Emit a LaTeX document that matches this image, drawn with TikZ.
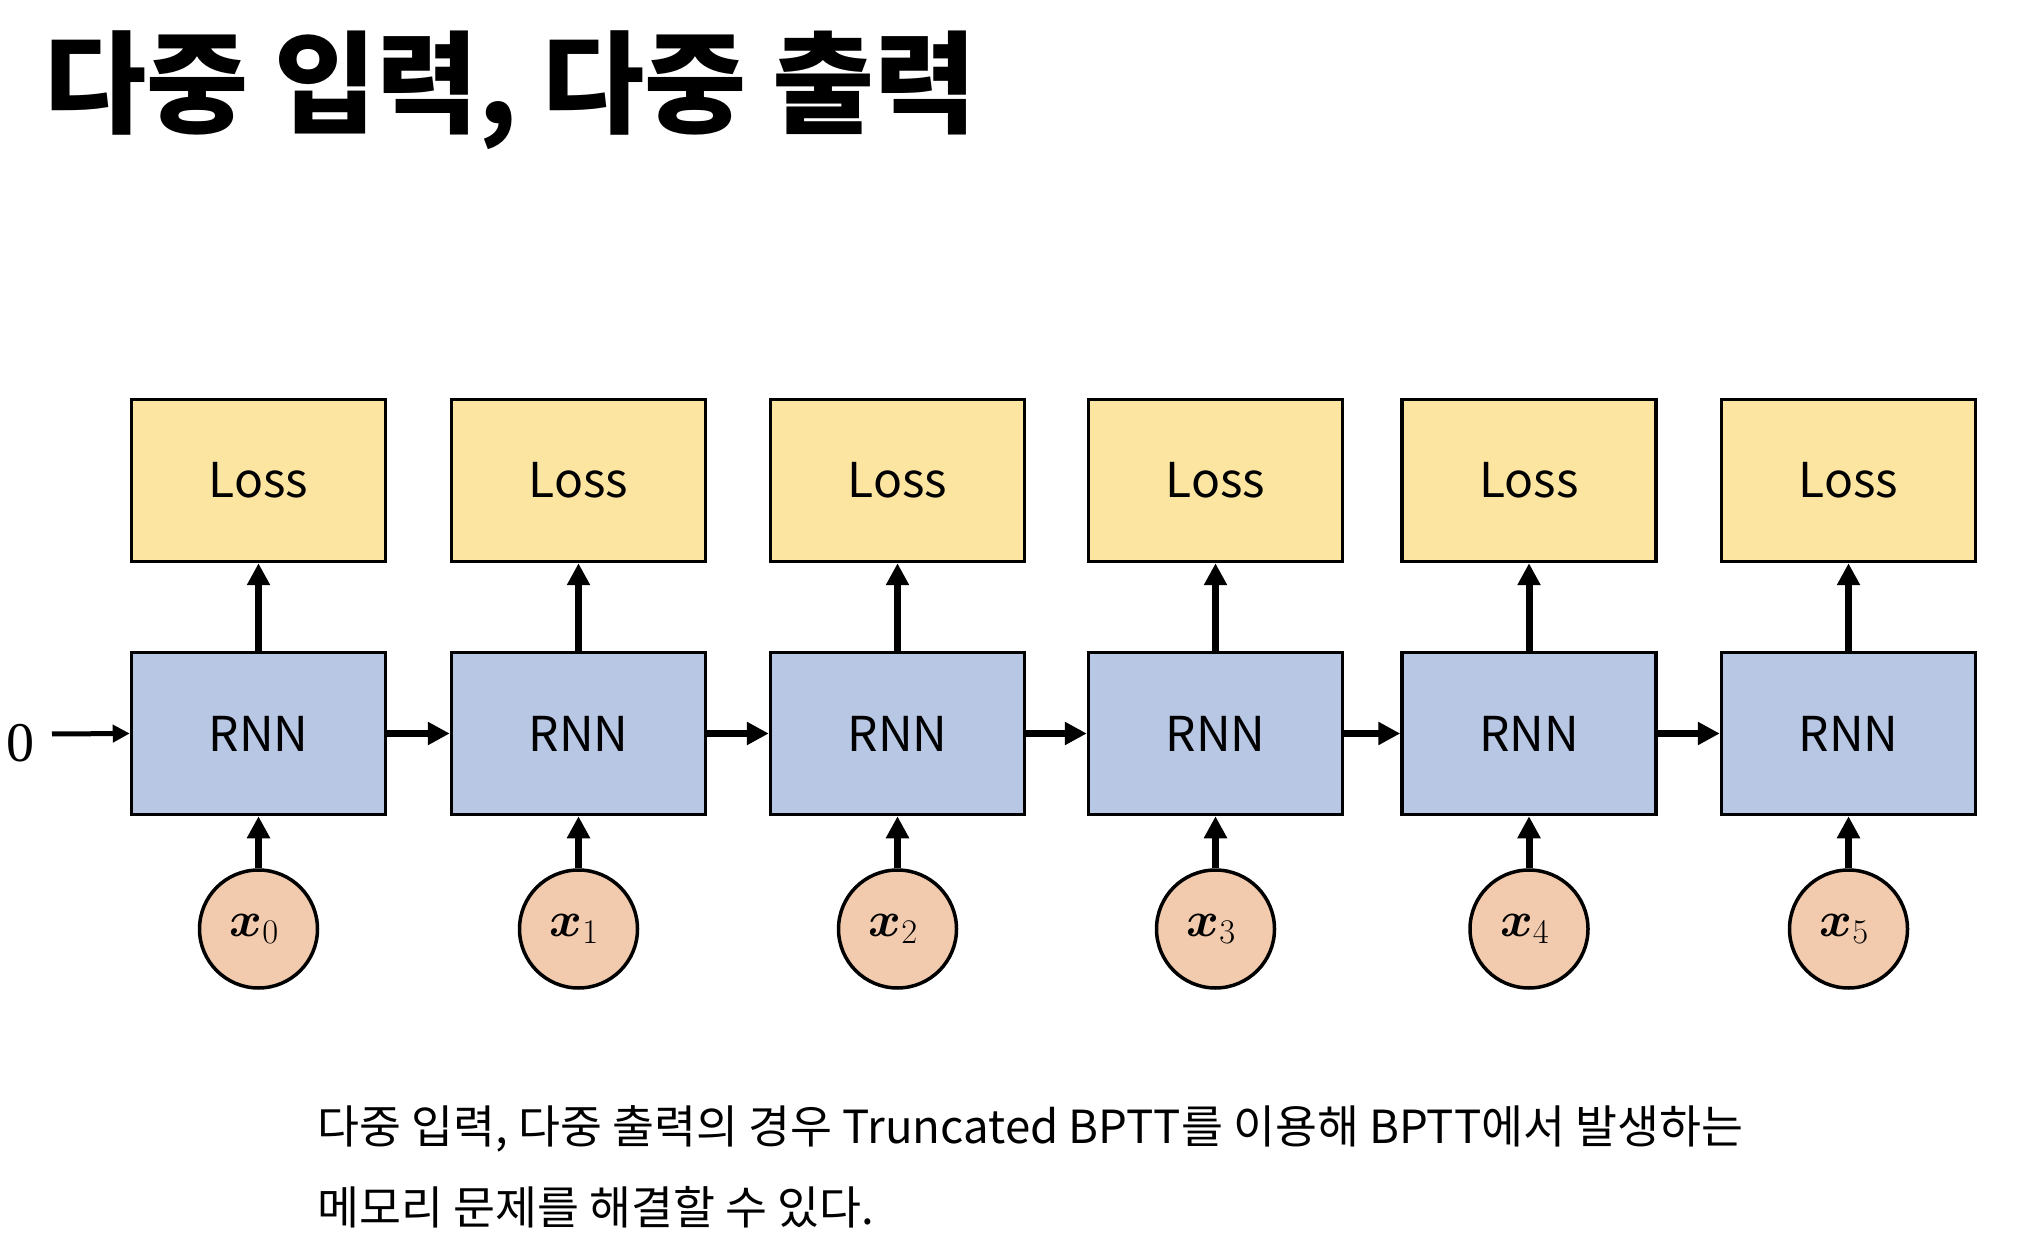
\documentclass[tikz,border=0pt]{standalone}
\usepackage{fontspec}
\usepackage{amsmath,bm}
\setmainfont{Noto Sans CJK KR}
\newfontfamily\zerofont{Liberation Serif}
\usetikzlibrary{arrows.meta}
\definecolor{lossfill}{HTML}{FBE5A1}
\definecolor{rnnfill}{HTML}{B8C7E4}
\definecolor{xfill}{HTML}{F2CBAE}
\begin{document}
\begin{tikzpicture}[x=0.5pt,y=-0.5pt,
  boxbase/.style={draw=black, line width=1.75pt, minimum width=127pt, minimum height=81pt, inner sep=0pt, font=\fontsize{24}{28}\selectfont},
  lossbox/.style={boxbase, fill=lossfill},
  rnnbox/.style={boxbase, fill=rnnfill},
  xcirc/.style={circle, draw=black, line width=1.75pt, fill=xfill, minimum size=59pt, inner sep=0pt, font=\fontsize{27}{30}\selectfont},
  arr/.style={line width=3.5pt, -{Triangle[length=11pt,width=11pt]}},
  thinarr/.style={line width=2.5pt, -{Triangle[length=8.5pt,width=8.5pt]}},
  bodytext/.style={anchor=base west, inner sep=0pt, font=\fontsize{22.8}{26}\selectfont}
]
\useasboundingbox (0,0) rectangle (2024,1256);
\fill[white] (0,0) rectangle (2024,1256);

\node[anchor=base west, inner sep=0pt, font=\bfseries\fontsize{55.5}{60}\selectfont] (title) at (44,125) {다중 입력, 다중 출력};

\foreach \cx [count=\i from 0] in {258.5,578.5,897.5,1215.5,1529,1848.5} {
  \node[lossbox] (l\i) at (\cx,480.5) {Loss};
  \node[rnnbox] (r\i) at (\cx,733.5) {RNN};
  \node[xcirc] (x\i) at (\cx,929) {\hspace*{-4pt}$\bm{x}_{\i}$};
}

\foreach \i in {0,...,5} {
  \draw[arr] (r\i.north) -- (l\i.south);
  \draw[arr] (x\i.north) -- (r\i.south);
}
\foreach \i [evaluate=\i as \j using int(\i+1)] in {0,...,4} {
  \draw[arr] (r\i.east) -- (r\j.west);
}

\node[inner sep=0pt, font=\zerofont\fontsize{28}{30}\selectfont] (zero) at (20,743) {0};
\coordinate (zs) at (52,734);
\draw[thinarr] (zs) -- (r0.west);

\node[bodytext] (line1) at (317,1143) {다중 입력, 다중 출력의 경우 Truncated BPTT를 이용해 BPTT에서 발생하는};
\node[bodytext] (line2) at (317,1224) {메모리 문제를 해결할 수 있다.};
\end{tikzpicture}
\end{document}
